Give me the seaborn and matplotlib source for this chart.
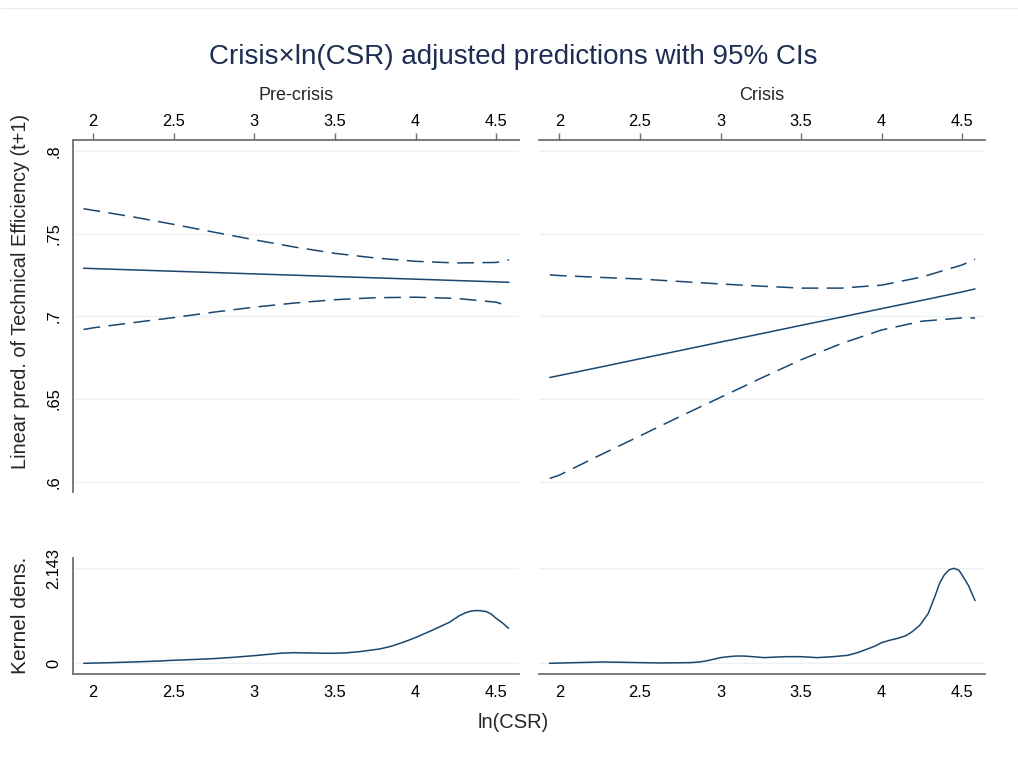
import numpy as np
import pandas as pd
import matplotlib
matplotlib.use("Agg")
import matplotlib.pyplot as plt
import seaborn as sns

sns.set_theme(style="white")
plt.rcParams['font.family'] = ['Liberation Sans', 'DejaVu Sans']

# ---------------- data ----------------
panels = ["Pre-crisis", "Crisis"]

# predictions (x = ln(CSR))
pred_x = [1.94, 2.0, 2.25, 2.5, 2.75, 3.0, 3.25, 3.5, 3.75, 4.0, 4.25, 4.5, 4.58]

pre_fit = [0.7290, 0.7288, 0.7280, 0.7272, 0.7264, 0.7256, 0.7248, 0.7240, 0.7232, 0.7224, 0.7216, 0.7208, 0.7205]
pre_hi = [0.7650, 0.7640, 0.7600, 0.7555, 0.7508, 0.7462, 0.7418, 0.7380, 0.7352, 0.7332, 0.7322, 0.7325, 0.7340]
pre_lo = [0.6920, 0.6930, 0.6962, 0.6992, 0.7025, 0.7055, 0.7080, 0.7100, 0.7112, 0.7115, 0.7108, 0.7085, 0.7060]

cri_fit = [0.6630, 0.6642, 0.6692, 0.6743, 0.6793, 0.6844, 0.6894, 0.6945, 0.6995, 0.7046, 0.7096, 0.7147, 0.7165]
cri_hi = [0.7250, 0.7246, 0.7235, 0.7225, 0.7210, 0.7195, 0.7182, 0.7170, 0.7170, 0.7188, 0.7237, 0.7310, 0.7345]
cri_lo = [0.6020, 0.6040, 0.6160, 0.6277, 0.6395, 0.6510, 0.6625, 0.6737, 0.6835, 0.6917, 0.6970, 0.6990, 0.6990]

# kernel densities
kd_pre_x = [1.942, 2.1, 2.25, 2.4, 2.496, 2.62, 2.744, 2.87, 3.0, 3.08, 3.157, 3.24, 3.33, 3.42, 3.488, 3.57,
            3.65, 3.72, 3.777, 3.85, 3.92, 4.0, 4.1, 4.21, 4.27, 4.31, 4.34, 4.37, 4.40, 4.44, 4.47, 4.5, 4.54, 4.577]
kd_pre_y = [0.0, 0.014, 0.030, 0.050, 0.068, 0.085, 0.105, 0.135, 0.173, 0.200, 0.226, 0.240, 0.234, 0.228, 0.226, 0.236,
            0.262, 0.295, 0.323, 0.385, 0.470, 0.580, 0.740, 0.925, 1.070, 1.140, 1.175, 1.190, 1.188, 1.166, 1.110, 1.015, 0.910, 0.790]

kd_cri_x = [1.938, 2.1, 2.27, 2.4, 2.5, 2.63, 2.81, 2.87, 2.92, 2.96, 3.0, 3.05, 3.1, 3.15, 3.2, 3.27, 3.34, 3.41, 3.5, 3.6,
            3.7, 3.79, 3.85, 3.91, 3.96, 4.0, 4.05, 4.1, 4.15, 4.19, 4.24, 4.29, 4.33, 4.36, 4.39, 4.42, 4.45, 4.48,
            4.5, 4.54, 4.58]
kd_cri_y = [0.0, 0.015, 0.030, 0.022, 0.015, 0.008, 0.015, 0.030, 0.060, 0.095, 0.128, 0.150, 0.165, 0.163, 0.150, 0.128,
            0.140, 0.150, 0.150, 0.128, 0.150, 0.180, 0.240, 0.320, 0.390, 0.466, 0.520, 0.564, 0.620, 0.714, 0.870,
            1.128, 1.500, 1.805, 2.000, 2.110, 2.143, 2.100, 1.993, 1.750, 1.414]

x_ticks = [2, 2.5, 3, 3.5, 4, 4.5]
x_ticklabels = ["2", "2.5", "3", "3.5", "4", "4.5"]
y_ticks = [0.6, 0.65, 0.7, 0.75, 0.8]
y_ticklabels = [".6", ".65", ".7", ".75", ".8"]
kd_ticks = [0, 2.143]
kd_ticklabels = ["0", "2.143"]

# ---------------- style ----------------
LINE = "#1a476f"
TITLE = "#1e2d53"
SPINE = "#707070"
GRID = "#eaf2f3"
W, H = 1018, 771

fig = plt.figure(figsize=(W / 100, H / 100), dpi=100)
fig.patch.set_facecolor("white")

def px(l, t, r, b):
    return [l / W, 1 - b / H, (r - l) / W, (b - t) / H]

ax_tl = fig.add_axes(px(72.7, 140, 519, 492))
ax_tr = fig.add_axes(px(539, 140, 985, 492))
ax_bl = fig.add_axes(px(72.7, 558, 519, 674.3))
ax_br = fig.add_axes(px(539, 558, 985, 674.3))

XLIM = (1.873, 4.642)
dash = (0, (11, 5.5))

for ax, fit, hi, lo in [(ax_tl, pre_fit, pre_hi, pre_lo), (ax_tr, cri_fit, cri_hi, cri_lo)]:
    df = pd.DataFrame({"x": pred_x, "fit": fit, "hi": hi, "lo": lo})
    for yv in y_ticks:
        ax.axhline(yv, color=GRID, lw=1.0, zorder=0)
    sns.lineplot(data=df, x="x", y="fit", ax=ax, color=LINE, lw=1.1)
    sns.lineplot(data=df, x="x", y="hi", ax=ax, color=LINE, lw=1.1, linestyle=dash)
    sns.lineplot(data=df, x="x", y="lo", ax=ax, color=LINE, lw=1.1, linestyle=dash)
    ax.set_xlim(*XLIM)
    ax.set_ylim(0.5938, 0.8065)
    ax.set_xlabel("")
    ax.set_ylabel("")
    ax.xaxis.tick_top()
    ax.set_xticks(x_ticks)
    ax.set_xticklabels(x_ticklabels)
    ax.set_yticks(y_ticks)
    ax.set_yticklabels(y_ticklabels, rotation=90, va="center")
    for s in ["right", "bottom"]:
        ax.spines[s].set_visible(False)

for ax, kx, ky in [(ax_bl, kd_pre_x, kd_pre_y), (ax_br, kd_cri_x, kd_cri_y)]:
    df = pd.DataFrame({"x": kx, "d": ky})
    for yv in kd_ticks:
        ax.axhline(yv, color=GRID, lw=1.0, zorder=0)
    sns.lineplot(data=df, x="x", y="d", ax=ax, color=LINE, lw=1.1)
    ax.set_xlim(*XLIM)
    ax.set_ylim(-0.248, 2.376)
    ax.set_xlabel("")
    ax.set_ylabel("")
    ax.set_xticks(x_ticks)
    ax.set_xticklabels(x_ticklabels)
    ax.set_yticks(kd_ticks)
    ax.set_yticklabels(kd_ticklabels, rotation=90, va="center")
    for s in ["right", "top"]:
        ax.spines[s].set_visible(False)

for ax in [ax_tl, ax_tr, ax_bl, ax_br]:
    for s in ax.spines.values():
        s.set_color(SPINE)
        s.set_linewidth(1.3)
    ax.tick_params(axis="both", which="major", direction="out", length=5, width=1.0,
                   color=SPINE, labelsize=11.8, labelcolor="black", pad=3)
    ax.set_facecolor("white")

for ax in [ax_tr, ax_br]:
    ax.spines["left"].set_visible(False)
    ax.tick_params(axis="y", left=False, labelleft=False)

# faint rule at the very top of the page
fig.add_artist(plt.Line2D([0, 1], [1 - 8 / H, 1 - 8 / H], color="#ececec", lw=1.0))

# texts
fig.text(513 / W, 1 - 57 / H, "Crisis\u00d7ln(CSR) adjusted predictions with 95% CIs",
         ha="center", va="center", fontsize=20, color=TITLE)
fig.text(296 / W, 1 - 96 / H, panels[0], ha="center", va="center", fontsize=13)
fig.text(762 / W, 1 - 96 / H, panels[1], ha="center", va="center", fontsize=13)
fig.text(21 / W, 1 - 291 / H, "Linear pred. of Technical Efficiency (t+1)",
         ha="center", va="center", rotation=90, fontsize=14.4)
fig.text(21 / W, 1 - 615 / H, "Kernel dens.", ha="center", va="center", rotation=90, fontsize=15)
fig.text(513 / W, 1 - 723 / H, "ln(CSR)", ha="center", va="center", fontsize=14.5)

fig.savefig("out.png", dpi=100, facecolor="white")
